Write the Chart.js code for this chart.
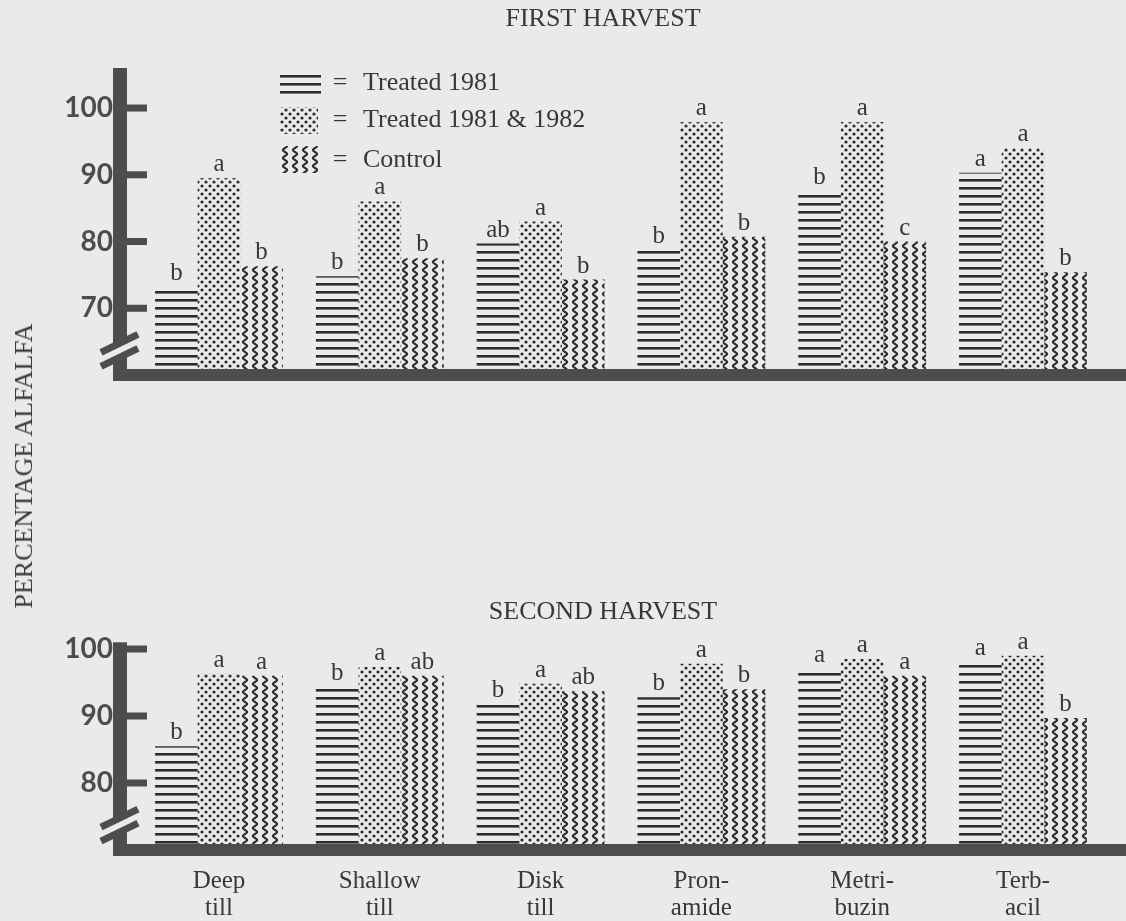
<!DOCTYPE html>
<html>
<head>
<meta charset="utf-8">
<title>Percentage alfalfa</title>
<script src="https://cdn.jsdelivr.net/npm/chart.js@4.4.1/dist/chart.umd.min.js"></script>
<style>
  html, body { margin: 0; padding: 0; background: #eaeaea; }
  body { width: 1126px; height: 921px; position: relative; overflow: hidden; }
  .panel { position: absolute; left: 0; width: 1126px; }
  #p1 { top: 0; height: 430px; }
  #p2 { top: 590px; height: 331px; }
  #ylab {
    position: absolute; left: 24px; top: 466px;
    transform: translate(-50%, -50%) rotate(-90deg);
    white-space: nowrap; font: 26px "Liberation Serif", "DejaVu Serif", serif; color: #3a3a3a;
  }
</style>
</head>
<body>
<div class="panel" id="p1"><canvas id="c1"></canvas></div>
<div class="panel" id="p2"><canvas id="c2"></canvas></div>
<div id="ylab">PERCENTAGE ALFALFA</div>
<script>
// Treatments (x categories), series names and tick values
const categories = [['Deep', 'till'], ['Shallow', 'till'], ['Disk', 'till'], ['Pron-', 'amide'], ['Metri-', 'buzin'], ['Terb-', 'acil']];
const seriesNames = ['Treated 1981', 'Treated 1981 & 1982', 'Control'];

// First harvest: percentage alfalfa
const firstTreated1981 = [73.2, 74.8, 79.7, 78.7, 87.6, 90.3];
const firstTreated8182 = [89.5, 86.0, 83.0, 97.9, 97.9, 94.0];
const firstControl = [76.3, 77.5, 74.3, 80.7, 80.0, 75.4];
const firstLetters1981 = ['b', 'b', 'ab', 'b', 'b', 'a'];
const firstLetters8182 = ['a', 'a', 'a', 'a', 'a', 'a'];
const firstLettersControl = ['b', 'b', 'b', 'b', 'c', 'b'];
const firstTicks = [70, 80, 90, 100];

// Second harvest: percentage alfalfa
const secondTreated1981 = [85.5, 94.3, 91.8, 92.8, 97.0, 98.1];
const secondTreated8182 = [96.3, 97.3, 94.8, 97.8, 98.5, 99.0];
const secondControl = [96.0, 96.0, 93.7, 94.0, 96.0, 89.7];
const secondLetters1981 = ['b', 'b', 'b', 'b', 'a', 'a'];
const secondLetters8182 = ['a', 'a', 'a', 'a', 'a', 'a'];
const secondLettersControl = ['a', 'ab', 'ab', 'b', 'a', 'b'];
const secondTicks = [80, 90, 100];

const INK = '#2c2c2c';
const TEXT = '#383838';
const AXIS = '#4d4d4d';
const SERIF = '"Liberation Serif", "DejaVu Serif", serif';

// ---- fill patterns ----
function makeTile(w, h, draw) {
  const c = document.createElement('canvas');
  c.width = w; c.height = h;
  const g = c.getContext('2d');
  g.fillStyle = INK; g.strokeStyle = INK;
  draw(g);
  return c;
}
const lineTile = makeTile(8, 8, g => { g.fillRect(0, 3, 8, 2.6); });
const dotTile = makeTile(8, 8, g => {
  [[2, 2], [6, 6]].forEach(([x, y]) => { g.beginPath(); g.arc(x, y, 1.6, 0, Math.PI * 2); g.fill(); });
});
const waveTile = makeTile(10, 8, g => {
  g.lineWidth = 2.1;
  g.beginPath();
  for (let y = -1; y <= 9; y += 0.5) {
    const x = 5 + 2.1 * Math.sin((y / 8) * Math.PI * 2);
    if (y === -1) g.moveTo(x, y); else g.lineTo(x, y);
  }
  g.stroke();
});
function patternFor(tile) {
  return document.createElement('canvas').getContext('2d').createPattern(tile, 'repeat');
}
const fills = [patternFor(lineTile), patternFor(dotTile), patternFor(waveTile)];

// ---- plugin: heavy axes with a broken y axis, letters, title, legend ----
const harvestFrame = {
  id: 'harvestFrame',
  afterDatasetsDraw(chart, args, opts) {
    const { ctx, chartArea, scales: { y } } = chart;
    ctx.save();

    // significance letters above each bar
    ctx.fillStyle = TEXT;
    ctx.font = '25px ' + SERIF;
    ctx.textAlign = 'center';
    ctx.textBaseline = 'alphabetic';
    chart.data.datasets.forEach((ds, di) => {
      chart.getDatasetMeta(di).data.forEach((bar, i) => {
        ctx.fillText(ds.letters[i], bar.x, bar.y - 7);
      });
    });

    // axes
    const ax = 120;
    const base = y.getPixelForValue(y.min);
    const yc = y.getPixelForValue(y.min + 3.7);
    ctx.fillStyle = AXIS;
    ctx.strokeStyle = AXIS;
    ctx.fillRect(ax - 7, chartArea.top, 14, (yc - 7) - chartArea.top);
    ctx.fillRect(ax - 7, yc + 7, 14, base - (yc + 7));
    ctx.lineWidth = 7;
    [-7, 7].forEach(d => {
      ctx.beginPath();
      ctx.moveTo(ax - 19, yc + d + 9);
      ctx.lineTo(ax + 18, yc + d - 9);
      ctx.stroke();
    });
    ctx.fillRect(ax - 7, base - 6, chart.width - (ax - 7), 12);
    y.ticks.forEach(t => {
      const py = y.getPixelForValue(t.value);
      ctx.fillRect(ax, py - 3.5, 27, 7);
    });

    // panel title
    ctx.fillStyle = TEXT;
    ctx.font = '26px ' + SERIF;
    ctx.textAlign = 'center';
    ctx.textBaseline = 'middle';
    ctx.fillText(opts.title, 603, opts.titleY);

    // legend
    if (opts.legend) {
      const rows = [[72, 23, 83], [107, 27, 120], [146, 27, 160]];
      rows.forEach(([top, h, mid], i) => {
        ctx.fillStyle = fills[i];
        ctx.fillRect(280, top, i === 0 ? 41 : 38, h);
        ctx.fillStyle = TEXT;
        ctx.textAlign = 'center';
        ctx.fillText('=', 340, mid);
        ctx.textAlign = 'left';
        ctx.fillText(seriesNames[i], 363, mid);
      });
    }
    ctx.restore();
  }
};

function buildChart(canvasId, values, letters, ticks, yMin, yMax, showX, frameOpts, padTop, padBottom) {
  return new Chart(document.getElementById(canvasId), {
    type: 'bar',
    data: {
      labels: categories,
      datasets: values.map((v, i) => ({
        label: seriesNames[i],
        data: v,
        letters: letters[i],
        backgroundColor: fills[i],
        borderWidth: 0,
        barPercentage: 1.0,
        categoryPercentage: 0.795
      }))
    },
    plugins: [harvestFrame],
    options: {
      responsive: true,
      maintainAspectRatio: false,
      animation: false,
      events: [],
      layout: { padding: { top: padTop, bottom: padBottom, left: 0, right: 22.6 } },
      plugins: {
        legend: { display: false },
        tooltip: { enabled: false },
        title: { display: false },
        harvestFrame: frameOpts
      },
      scales: {
        x: {
          display: showX,
          grid: { display: false, drawTicks: false },
          border: { display: false },
          ticks: {
            color: TEXT,
            font: { family: SERIF, size: 25, lineHeight: 1.08 },
            padding: 17.5,
            maxRotation: 0,
            autoSkip: false
          },
          afterFit: s => { s.height = showX ? 71 : 0; }
        },
        y: {
          min: yMin,
          max: yMax,
          grid: { display: false, drawTicks: false },
          border: { display: false },
          afterBuildTicks: s => { s.ticks = ticks.map(v => ({ value: v })); },
          afterFit: s => { s.width = 138.6; },
          ticks: {
            color: AXIS,
            font: { family: 'Lato, "DejaVu Sans", sans-serif', weight: 'bold', size: 28 },
            padding: 25.6
          }
        }
      }
    }
  });
}

buildChart('c1',
  [firstTreated1981, firstTreated8182, firstControl],
  [firstLetters1981, firstLetters8182, firstLettersControl],
  firstTicks, 60, 106, false,
  { title: 'FIRST HARVEST', titleY: 19, legend: true }, 68, 55);

buildChart('c2',
  [secondTreated1981, secondTreated8182, secondControl],
  [secondLetters1981, secondLetters8182, secondLettersControl],
  secondTicks, 70, 101, true,
  { title: 'SECOND HARVEST', titleY: 22, legend: false }, 52.3, 0);
</script>
</body>
</html>
